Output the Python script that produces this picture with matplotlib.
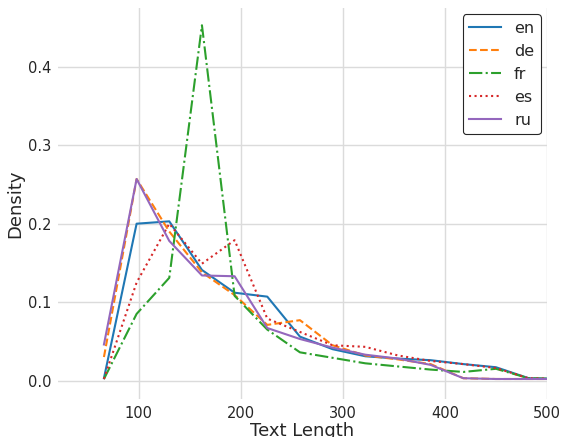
import numpy as np
import matplotlib
matplotlib.use("Agg")
import matplotlib.pyplot as plt

# -------------------------
# Data
# -------------------------
lengths = [66, 98, 130, 162, 194, 226, 258, 290, 322, 354, 386, 418, 450, 482, 514]

en = [0.003, 0.200, 0.203, 0.141, 0.112, 0.107, 0.056, 0.040, 0.031, 0.028, 0.026, 0.021, 0.017, 0.003, 0.002]
de = [0.030, 0.257, 0.190, 0.138, 0.109, 0.071, 0.077, 0.045, 0.032, 0.027, 0.021, 0.003, 0.002, 0.002, 0.002]
fr = [0.002, 0.085, 0.131, 0.453, 0.108, 0.065, 0.036, 0.029, 0.022, 0.018, 0.014, 0.011, 0.015, 0.003, 0.002]
es = [0.002, 0.125, 0.200, 0.149, 0.179, 0.079, 0.062, 0.045, 0.043, 0.032, 0.025, 0.021, 0.016, 0.003, 0.002]
ru = [0.046, 0.257, 0.178, 0.134, 0.133, 0.067, 0.053, 0.042, 0.033, 0.028, 0.020, 0.003, 0.002, 0.002, 0.002]

series = [("en", en, "-"), ("de", de, "--"), ("fr", fr, "-."), ("es", es, ":"), ("ru", ru, "-")]
colors = ["#1f77b4", "#ff7f0e", "#2ca02c", "#d62728", "#9467bd"]

# -------------------------
# Plotting
# -------------------------
plt.rcParams["text.color"] = "0.15"
plt.rcParams["axes.labelcolor"] = "0.15"
plt.rcParams["xtick.color"] = "0.15"
plt.rcParams["ytick.color"] = "0.15"

fig = plt.figure(figsize=(5.63, 4.37), dpi=100)
ax = fig.add_axes([58/563, 1 - 399/437, (547 - 58)/563, (399 - 8)/437])

for (name, vals, ls), col in zip(series, colors):
    ax.plot(lengths, vals, linestyle=ls, color=col, lw=1.5, label=name)

ax.set_xlim(21, 500)
ax.set_ylim(-0.0235, 0.475)
ax.set_xticks([100, 200, 300, 400, 500])
ax.set_yticks([0.0, 0.1, 0.2, 0.3, 0.4])
ax.tick_params(length=0, labelsize=10.5, pad=5)
ax.grid(True, color="0.86", lw=1)
ax.set_axisbelow(True)
for s in ax.spines.values():
    s.set_visible(False)

# the x label sits partly below the figure edge, as in the reference
ax.set_xlabel("Text Length", fontsize=13, labelpad=0.5)
ax.set_ylabel("Density", fontsize=13, labelpad=2.5)

leg = ax.legend(loc="upper right", fontsize=11.5, frameon=True, fancybox=True,
                borderaxespad=0.4, handlelength=2.0)
leg.get_frame().set_edgecolor("0.15")
leg.get_frame().set_linewidth(0.8)
leg.get_frame().set_alpha(1)

fig.savefig("out.png", dpi=100)
